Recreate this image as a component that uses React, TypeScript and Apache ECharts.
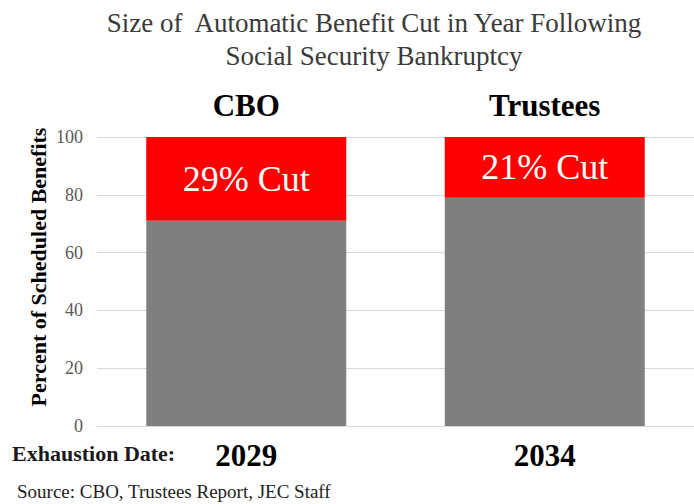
import React, { useEffect, useRef } from "react";
import * as echarts from "echarts";

const sources = ["CBO", "Trustees"];
const exhaustionYears = ["2029", "2034"];
const remainingBenefits = [71, 79];
const benefitCut = [29, 21];
const yTicks = { min: 0, max: 100, interval: 20 };

const SERIF = "Liberation Serif";

export default function App() {
  const ref = useRef<HTMLDivElement>(null);
  useEffect(() => {
    document.body.style.margin = "0";
    const chart = echarts.init(ref.current!, null, { renderer: "svg" });
    chart.setOption({
      animation: false,
      backgroundColor: "#ffffff",
      title: {
        text: "Size of  Automatic Benefit Cut in Year Following\nSocial Security Bankruptcy",
        left: 369,
        top: 1,
        textAlign: "center",
        textStyle: {
          fontFamily: SERIF,
          fontSize: 27,
          fontWeight: "normal",
          color: "#3a3a3a",
          lineHeight: 33,
        },
      },
      grid: { left: 97, width: 597, top: 137, bottom: 78, containLabel: false },
      xAxis: [
        {
          type: "category",
          data: exhaustionYears,
          position: "bottom",
          axisLine: { show: true, lineStyle: { color: "#d9d9d9" } },
          axisTick: { show: false },
          axisLabel: {
            fontFamily: SERIF,
            fontSize: 31,
            fontWeight: "bold",
            color: "#000",
            margin: 14,
          },
        },
        {
          type: "category",
          data: sources,
          position: "top",
          axisLine: { show: false },
          axisTick: { show: false },
          axisLabel: {
            fontFamily: SERIF,
            fontSize: 31,
            fontWeight: "bold",
            color: "#000",
            margin: 16,
          },
        },
      ],
      yAxis: {
        type: "value",
        min: yTicks.min,
        max: yTicks.max,
        interval: yTicks.interval,
        axisLine: { show: false },
        axisTick: { show: false },
        splitLine: { lineStyle: { color: "#d9d9d9", width: 1 } },
        axisLabel: {
          fontFamily: SERIF,
          fontSize: 18,
          color: "#595959",
          margin: 14,
        },
      },
      graphic: [
        {
          type: "text",
          x: 38,
          y: 267,
          rotation: Math.PI / 2,
          style: {
            text: "Percent of Scheduled Benefits",
            fontFamily: SERIF,
            fontSize: 22,
            fontWeight: "bold",
            fill: "#000",
            align: "center",
            verticalAlign: "middle",
          },
        },
        {
          type: "text",
          x: 12,
          y: 453,
          style: {
            text: "Exhaustion Date:",
            fontFamily: SERIF,
            fontSize: 22,
            fontWeight: "bold",
            fill: "#1a1a1a",
            align: "left",
            verticalAlign: "middle",
          },
        },
        {
          type: "text",
          x: 17,
          y: 491,
          style: {
            text: "Source: CBO, Trustees Report, JEC Staff",
            fontFamily: SERIF,
            fontSize: 19,
            fill: "#222",
            align: "left",
            verticalAlign: "middle",
          },
        },
      ],
      series: [
        {
          type: "bar",
          stack: "total",
          xAxisIndex: 0,
          data: remainingBenefits,
          barWidth: 200,
          itemStyle: { color: "#7f7f7f" },
        },
        {
          type: "bar",
          stack: "total",
          xAxisIndex: 0,
          data: benefitCut,
          barWidth: 200,
          itemStyle: { color: "#ff0000" },
          label: {
            show: true,
            position: "inside",
            formatter: (p: any) => `${p.value}% Cut`,
            fontFamily: SERIF,
            fontSize: 36,
            color: "#ffffff",
          },
        },
      ],
    });
    return () => chart.dispose();
  }, []);
  return <div ref={ref} style={{ width: 694, height: 504, position: "absolute", left: 0, top: 0 }} />;
}
